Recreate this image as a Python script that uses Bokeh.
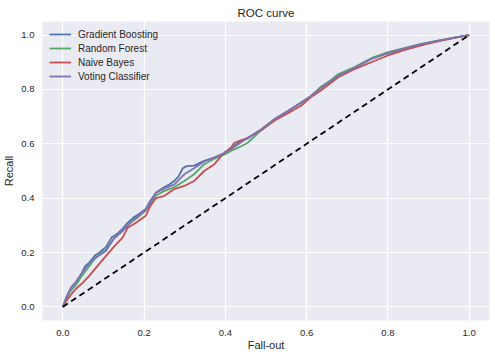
from bokeh.plotting import figure
from bokeh.models import FixedTicker, Legend, LegendItem, CustomJSTickFormatter
from bokeh.embed import file_html
from bokeh.resources import INLINE

# ---- data ----
gb_x = [0, 0.01, 0.02, 0.032, 0.045, 0.055, 0.065, 0.08, 0.09, 0.106, 0.12, 0.135, 0.147, 0.16, 0.175, 0.19, 0.204,
        0.215, 0.229, 0.249, 0.262, 0.274, 0.285, 0.295, 0.305, 0.323, 0.348, 0.373, 0.397, 0.414, 0.438, 0.455, 0.488,
        0.52, 0.553, 0.586, 0.611, 0.635, 0.66, 0.677, 0.718, 0.759, 0.8, 0.84, 0.882, 0.923, 0.964, 1.0]
gb_y = [0, 0.04, 0.07, 0.09, 0.12, 0.15, 0.163, 0.19, 0.2, 0.22, 0.255, 0.27, 0.287, 0.31, 0.33, 0.345, 0.36,
        0.39, 0.42, 0.44, 0.45, 0.463, 0.48, 0.51, 0.518, 0.52, 0.537, 0.549, 0.565, 0.586, 0.61, 0.62, 0.653,
        0.69, 0.72, 0.752, 0.776, 0.806, 0.83, 0.852, 0.88, 0.912, 0.934, 0.95, 0.967, 0.979, 0.991, 1.0]

rf_x = [0, 0.01, 0.02, 0.032, 0.045, 0.065, 0.08, 0.106, 0.125, 0.147, 0.167, 0.185, 0.204, 0.229, 0.249, 0.274,
        0.299, 0.323, 0.348, 0.373, 0.397, 0.414, 0.438, 0.455, 0.488, 0.52, 0.553, 0.586, 0.611, 0.635, 0.66, 0.677,
        0.718, 0.759, 0.8, 0.84, 0.882, 0.923, 0.964, 1.0]
rf_y = [0, 0.035, 0.06, 0.08, 0.11, 0.15, 0.18, 0.21, 0.25, 0.28, 0.31, 0.33, 0.355, 0.41, 0.426, 0.44,
        0.463, 0.488, 0.525, 0.545, 0.56, 0.574, 0.59, 0.604, 0.65, 0.685, 0.72, 0.75, 0.775, 0.81, 0.835, 0.856,
        0.882, 0.915, 0.937, 0.952, 0.968, 0.98, 0.991, 1.0]

nb_x = [0, 0.01, 0.02, 0.032, 0.05, 0.065, 0.085, 0.106, 0.125, 0.147, 0.159, 0.18, 0.204, 0.215, 0.229, 0.249,
        0.274, 0.299, 0.323, 0.348, 0.373, 0.397, 0.414, 0.422, 0.455, 0.488, 0.52, 0.553, 0.586, 0.611, 0.635, 0.677,
        0.718, 0.759, 0.8, 0.84, 0.882, 0.923, 0.964, 1.0]
nb_y = [0, 0.025, 0.045, 0.066, 0.09, 0.114, 0.15, 0.187, 0.22, 0.255, 0.29, 0.31, 0.335, 0.37, 0.40, 0.408,
        0.433, 0.445, 0.463, 0.5, 0.525, 0.567, 0.586, 0.604, 0.622, 0.65, 0.685, 0.712, 0.74, 0.772, 0.796, 0.844,
        0.875, 0.9, 0.925, 0.945, 0.962, 0.977, 0.99, 1.0]

vc_x = [0, 0.01, 0.02, 0.032, 0.045, 0.065, 0.08, 0.106, 0.125, 0.147, 0.167, 0.185, 0.204, 0.229, 0.249, 0.274,
        0.299, 0.323, 0.348, 0.373, 0.397, 0.414, 0.438, 0.455, 0.488, 0.52, 0.553, 0.586, 0.611, 0.635, 0.66, 0.677,
        0.718, 0.759, 0.8, 0.84, 0.882, 0.923, 0.964, 1.0]
vc_y = [0, 0.04, 0.07, 0.092, 0.12, 0.16, 0.18, 0.206, 0.25, 0.28, 0.31, 0.335, 0.355, 0.42, 0.435, 0.45,
        0.488, 0.51, 0.535, 0.55, 0.565, 0.58, 0.605, 0.622, 0.653, 0.69, 0.72, 0.751, 0.776, 0.806, 0.832, 0.85,
        0.88, 0.912, 0.934, 0.95, 0.967, 0.979, 0.991, 1.0]

diag_x = [0, 1]
diag_y = [0, 1]

series_names = ["Gradient Boosting", "Random Forest", "Naive Bayes", "Voting Classifier"]
ticks = [0.0, 0.2, 0.4, 0.6, 0.8, 1.0]

FONT = "Liberation Sans"
TXT = "#262626"

p = figure(width=495, height=357, output_backend="svg", toolbar_location=None,
           x_range=(-0.05, 1.05), y_range=(-0.05, 1.05),
           min_border_left=42, min_border_right=6, min_border_top=21, min_border_bottom=37,
           background_fill_color="#EAEAF2", border_fill_color="white", outline_line_color=None,
           title="ROC curve")
p.title.align = "center"
p.title.text_font = FONT
p.title.text_font_size = "11.5px"
p.title.text_font_style = "normal"
p.title.text_color = TXT
p.title.standoff = 6
p.title.text_line_height = 0.8

for ax in (p.xaxis, p.yaxis):
    ax.ticker = FixedTicker(ticks=ticks)
    ax.formatter = CustomJSTickFormatter(code="return tick.toFixed(1);")
    ax.axis_line_color = None
    ax.major_tick_line_color = None
    ax.minor_tick_line_color = None
    ax.major_tick_out = 0
    ax.major_tick_in = 0
    ax.minor_tick_out = 0
    ax.minor_tick_in = 0
    ax.major_label_text_font = FONT
    ax.major_label_text_font_size = "9.5px"
    ax.major_label_text_color = TXT
    ax.axis_label_text_font = FONT
    ax.axis_label_text_font_size = "11px"
    ax.axis_label_text_font_style = "normal"
    ax.axis_label_text_color = TXT
p.xaxis.axis_label = "Fall-out"
p.yaxis.axis_label = "Recall"
p.xaxis.major_label_standoff = 9
p.yaxis.major_label_standoff = 8
p.xaxis.axis_label_standoff = 0
p.yaxis.axis_label_standoff = 3

p.xgrid.ticker = FixedTicker(ticks=ticks)
p.ygrid.ticker = FixedTicker(ticks=ticks)
p.grid.grid_line_color = "white"
p.grid.grid_line_width = 1.2

colors = ["#4C72B0", "#55A868", "#C44E52", "#8172B2"]
data = [(gb_x, gb_y), (rf_x, rf_y), (nb_x, nb_y), (vc_x, vc_y)]
items = []
for name, (xs, ys), c in zip(series_names, data, colors):
    r = p.line(xs, ys, line_color=c, line_width=1.8)
    items.append(LegendItem(label=name, renderers=[r]))

p.line(diag_x, diag_y, line_color="black", line_width=1.8, line_dash="6 4")

legend = Legend(items=items, location="top_left", border_line_color=None,
                background_fill_alpha=0, label_text_font=FONT, label_text_font_size="10px",
                label_text_color=TXT, glyph_width=22, glyph_height=12, label_height=12,
                spacing=2, padding=4, margin=7, label_standoff=7)
p.add_layout(legend)

open("out.html", "w").write(file_html(p, INLINE))
